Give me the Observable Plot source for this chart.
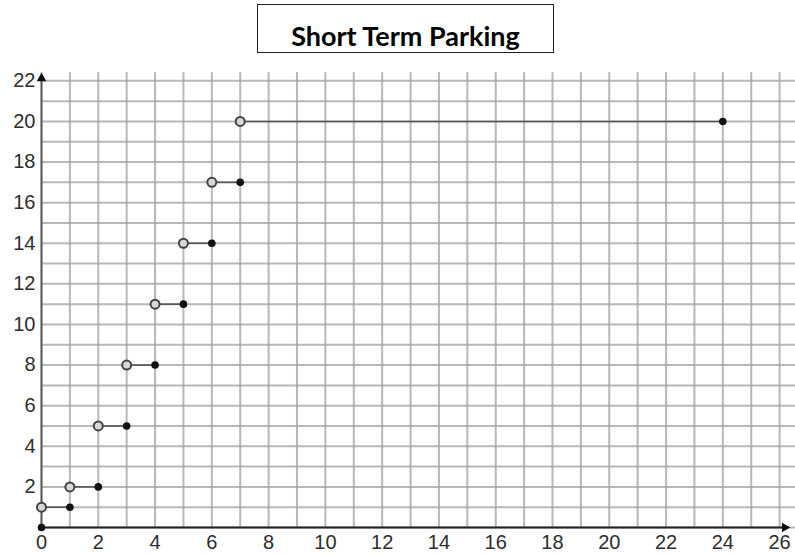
<!DOCTYPE html>
<html>
<head>
<meta charset="utf-8">
<script src="https://cdn.jsdelivr.net/npm/d3@7"></script>
<script src="https://cdn.jsdelivr.net/npm/@observablehq/plot@0.6"></script>
<style>
  html, body { margin: 0; padding: 0; background: #fff; }
  #wrap { position: relative; width: 795px; height: 555px; overflow: hidden; }
  #title {
    position: absolute; left: 257px; top: 4px; width: 295px; height: 47px;
    border: 1.5px solid #222; background: #fff; box-sizing: content-box;
    text-align: center;
  }
  #title span {
    display: inline-block; font-family: Lato, "Open Sans", sans-serif; font-weight: 700;
    font-size: 27px; line-height: 27px; margin-top: 17px; color: #000;
  }
  #chart { position: absolute; left: 0; top: 0; }
</style>
</head>
<body>
<div id="wrap">
  <div id="chart"></div>
  <div id="title"><span id="titleText"></span></div>
</div>
<script>
// Data: parking cost by hours parked (step function)
const title = "Short Term Parking";
const hourStart = [0, 1, 2, 3, 4, 5, 6, 7];     // open circles
const hourEnd   = [1, 2, 3, 4, 5, 6, 7, 24];    // closed dots
const cost      = [1, 2, 5, 8, 11, 14, 17, 20];
const originX = [0];
const originY = [0];
const xTicks = d3.range(0, 27, 2);
const yTicks = d3.range(2, 23, 2);
const xGrid = d3.range(0, 27, 1);
const yGrid = d3.range(0, 23, 1);
const xDomain = [0, 26.56];
const yDomain = [0, 22.41];
const xAxisEnd = 26.3;
const yAxisEnd = 22.3;

document.getElementById("titleText").textContent = title;

const idx = d3.range(cost.length);
const axisLines = [
  {x1: 0, y1: 0, x2: xAxisEnd, y2: 0, c: "#222"},
  {x1: 0, y1: 0, x2: 0, y2: yAxisEnd, c: "#555"}
];
const arrowHeads = [
  {x: xAxisEnd - 0.12, y: 0, rot: 90},
  {x: 0, y: yAxisEnd - 0.18, rot: 0}
];

const chart = Plot.plot({
  width: 795,
  height: 555,
  marginLeft: 41,
  marginRight: 0,
  marginTop: 72,
  marginBottom: 28,
  style: {fontFamily: "Liberation Sans, Arial, sans-serif", background: "transparent"},
  x: {domain: xDomain},
  y: {domain: yDomain},
  marks: [
    Plot.gridX(xGrid, {stroke: "#a0a0a0", strokeOpacity: 0.75, strokeWidth: 2}),
    Plot.gridY(yGrid, {stroke: "#a0a0a0", strokeOpacity: 0.75, strokeWidth: 2}),
    Plot.axisX(xTicks, {tickSize: 0, tickPadding: 7, fontSize: 20, fill: "#2e2e2e", label: null}),
    Plot.axisY(yTicks, {tickSize: 0, tickPadding: 6, fontSize: 20, fill: "#2e2e2e", label: null}),
    Plot.link(axisLines, {x1: "x1", y1: "y1", x2: "x2", y2: "y2", stroke: "c", strokeWidth: 1.8}),
    Plot.dot(arrowHeads, {x: "x", y: "y", rotate: "rot", symbol: "triangle", r: 3.6, fill: "#111", stroke: "none"}),
    Plot.link(idx, {x1: i => hourStart[i], x2: i => hourEnd[i], y1: i => cost[i], y2: i => cost[i], stroke: "#555", strokeWidth: 1.6}),
    Plot.dot(idx, {x: i => hourStart[i], y: i => cost[i], r: 4.5, stroke: "#444", strokeWidth: 2, fill: "#d8d8d8"}),
    Plot.dot(idx, {x: i => hourEnd[i], y: i => cost[i], r: 3.8, fill: "#111", stroke: "none"}),
    Plot.dot(originX, {x: (d, i) => originX[i], y: (d, i) => originY[i], r: 3.8, fill: "#111", stroke: "none"})
  ]
});
document.getElementById("chart").appendChild(chart);
</script>
</body>
</html>
